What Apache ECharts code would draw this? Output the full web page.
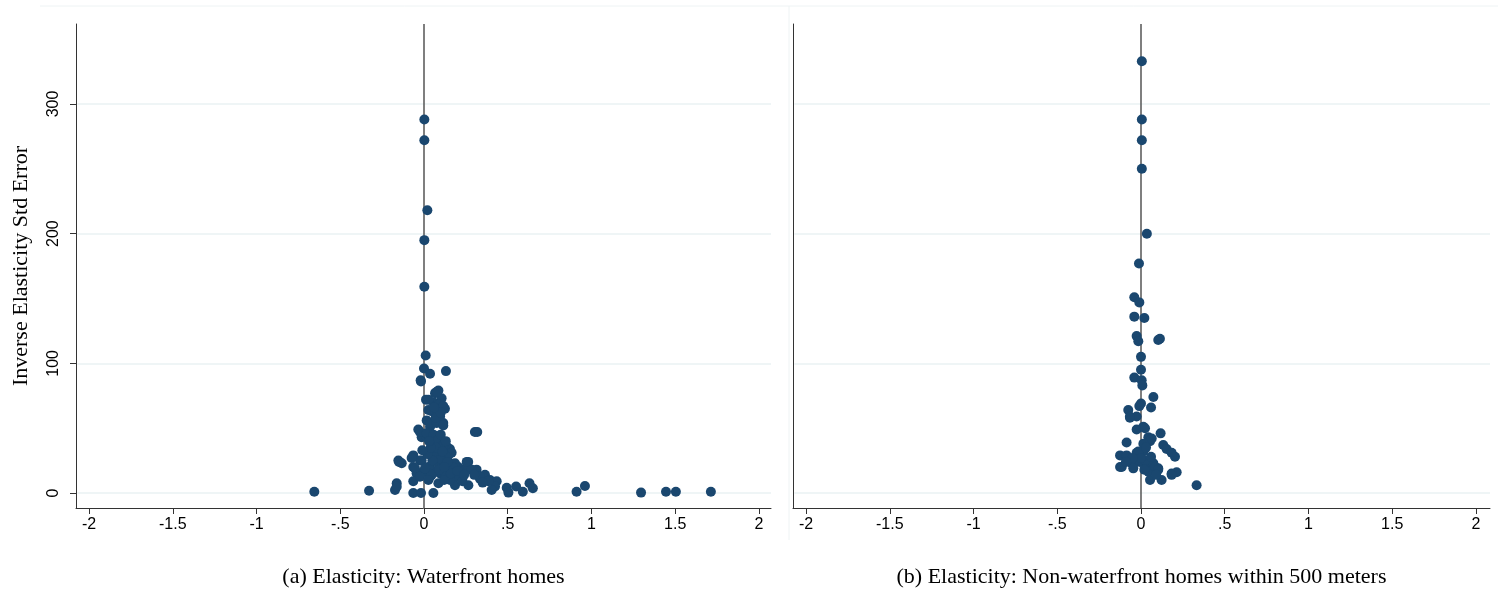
<!DOCTYPE html>
<html>
<head>
<meta charset="utf-8">
<script src="https://cdn.jsdelivr.net/npm/echarts@6/dist/echarts.min.js"></script>
<style>
html,body{margin:0;padding:0;background:#fff;}
#chart{width:1498px;height:594px;}
</style>
</head>
<body>
<div id="chart"></div>
<script>
// ---- data ----
var xTicks = [-2, -1.5, -1, -0.5, 0, 0.5, 1, 1.5, 2];
var yTicks = [0, 100, 200, 300];
var panelTitles = ['(a) Elasticity: Waterfront homes', '(b) Elasticity: Non-waterfront homes within 500 meters'];
var yAxisTitle = 'Inverse Elasticity Std Error';

// (a) Waterfront homes: [elasticity, inverse std error]
var waterfrontPoints = [
  [0.002,288],[0.002,272],[0.02,218],[0.002,195],[0.002,159],
  [0.01,106],[0.0,96],[0.036,92],[0.131,94],[-0.02,87],[0.086,79],[0.066,77],[0.105,73],
  [0.012,72],[0.056,70],[0.086,68],[0.125,65],[0.026,64],[0.086,64],[0.016,56],[0.056,54],
  [0.115,54],[0.036,51],[-0.034,49],[-0.014,43],[0.016,43],[0.304,47],[0.318,47],[0.066,41],
  [0.105,38],[0.135,36],[0.155,34],[0.086,32],[0.145,29],[-0.064,29],[0.105,28],[-0.153,25],
  [-0.133,23],[-0.024,25],[-0.064,20],[0.036,20],[0.086,23],[0.155,23],[0.205,20],[0.264,24],
  [0.255,20],[0.314,18],[0.364,14],[0.334,11],[0.394,10],[0.434,9],[0.424,5],[0.494,4],
  [0.504,0.3],[0.55,5],[0.59,1],[0.63,7.5],[0.65,3.6],[-0.044,15],[-0.004,16.5],[0.036,12.6],
  [0.096,15],[0.175,12.6],[0.215,16.5],[0.135,17.7],[0.056,16.5],[0.185,6],[-0.064,9],
  [-0.163,7.5],[-0.173,2.3],[-0.064,0],[-0.018,0],[0.056,0],[0.911,1],[0.961,5.4],
  [1.296,0.3],[1.445,1],[1.504,1],[-0.655,1],[-0.328,1.8],[-0.163,4.9],[-0.149,24],[1.713,1],
  [-0.018,86],[0.076,78],[0.026,72],[0.115,67],[0.046,63],[0.096,59],[0.036,54],[0.076,54],
  [0.115,52],[-0.024,47],[0.016,46],[0.056,45],[0.086,41],[0.115,37],[0.165,31],[0.135,28],
  [-0.074,27],[-0.014,25],[-0.054,19],[0.026,20],[0.185,23],[0.255,24],[-0.024,12.6],[0.046,14],
  [0.125,15],[0.205,12.6],[0.285,18],[0.334,12.6],[0.384,9],[0.155,10],[0.086,7.5],[0.265,6],
  [0.404,2.3],[0.006,19],[0.026,10],[0.06,30],[0.1,26],[0.17,20],[0.12,10],[0.23,9],
  [0.07,35],[0.11,32],[0.14,24],[0.05,25],[0.02,30],[0.09,18],[0.16,15],[0.2,17],[0.12,20],
  [0.04,35],[0.1,45],[0.13,40],[0.07,58],[0.1,62],[0.06,66],[0.03,40],[-0.01,33],[0.24,14],
  [0.3,14],[0.35,8]
];

// (b) Non-waterfront homes within 500 meters
var nonWaterfrontPoints = [
  [0.005,333],[0.005,288],[0.005,272],[0.005,250],[0.035,200],[-0.012,177],
  [-0.04,151],[-0.01,147],[-0.04,136],[0.02,135],[-0.026,121],[-0.016,117],[0.103,118],
  [0.113,119],[0.0,105],[0.0,95],[-0.04,89],[0.004,87],[0.008,83],[0.074,74],[0.0,69],
  [-0.01,67],[0.06,66],[-0.076,64],[-0.066,59],[-0.026,59],[0.014,51],[-0.026,49],[0.044,43],
  [0.117,46],[-0.086,39],[0.014,38],[0.054,40],[0.133,37],[0.153,34],[0.183,31],[0.203,28],
  [-0.125,29],[-0.086,29],[-0.026,31],[0.014,32],[-0.125,20],[-0.056,23],[-0.006,24],
  [-0.046,19],[0.034,20],[0.074,23],[0.103,19],[0.044,16.5],[0.054,10],[0.123,10],
  [0.183,15],[0.213,16],[0.332,6],[-0.066,58],[0.024,50],[0.064,42],[-0.016,32],
  [0.024,25],[-0.115,20],[0.084,20],[0.183,14],[0.103,18],[0.0,27],
  [0.03,35],[-0.05,27],[0.06,28],[0.02,18],[0.09,14],[-0.09,24]
];

// ---- chart ----
var chart = echarts.init(document.getElementById('chart'), null, {renderer: 'canvas'});
var sans = 'Liberation Sans, Arial, sans-serif';
var serif = 'Liberation Serif, Times New Roman, serif';
var axisColor = '#333';
var gridColor = '#eaf2f3';
var dotColor = '#1a476f';
var xMin = -2.078;

function fmtX(v) {
  var s = String(Math.round(v * 10) / 10);
  return s.replace('0.', '.');
}

function makeX(idx, name, max) {
  return {
    gridIndex: idx, type: 'value', min: xMin, max: max,
    name: name, nameLocation: 'middle', nameGap: 58,
    nameTextStyle: {fontFamily: serif, fontSize: 22, color: '#000'},
    axisLine: {show: true, onZero: false, lineStyle: {color: axisColor, width: 1}},
    axisTick: {show: true, length: 6, customValues: xTicks, lineStyle: {color: axisColor, width: 1}},
    axisLabel: {customValues: xTicks, formatter: fmtX, fontFamily: sans, fontSize: 16, color: '#000', margin: 9},
    splitLine: {show: false}
  };
}
function makeY(idx, showLabels) {
  return {
    gridIndex: idx, type: 'value', min: -11.57, max: 361.7,
    name: showLabels ? yAxisTitle : '', nameLocation: 'middle', nameGap: 44,
    nameTextStyle: {fontFamily: serif, fontSize: 22, color: '#000'},
    axisLine: {show: true, onZero: false, lineStyle: {color: axisColor, width: 1}},
    axisTick: {show: showLabels, length: 6, customValues: yTicks, lineStyle: {color: axisColor, width: 1}},
    axisLabel: {show: showLabels, customValues: yTicks, rotate: 90, fontFamily: sans, fontSize: 16, color: '#000', margin: 14},
    splitLine: {show: false}
  };
}
function markLines(max) {
  var d = yTicks.map(function (v) {
    return [{coord: [xMin + 0.008, v], lineStyle: {color: gridColor, width: 1.5, type: 'solid'}}, {coord: [max, v]}];
  });
  d.push({xAxis: 0, lineStyle: {color: '#555', width: 1.5, type: 'solid'}});
  return {silent: true, symbol: 'none', z: 1, label: {show: false}, animation: false, data: d};
}

chart.setOption({
  animation: false,
  backgroundColor: '#fff',
  grid: [
    {left: 76, top: 24, width: 695, height: 484},
    {left: 793, top: 24, width: 697, height: 484}
  ],
  xAxis: [makeX(0, panelTitles[0], 2.072), makeX(1, panelTitles[1], 2.084)],
  yAxis: [makeY(0, true), makeY(1, false)],
  graphic: [
    {type: 'line', shape: {x1: 40, y1: 6, x2: 1498, y2: 6}, style: {stroke: '#eef3f4', lineWidth: 1}, silent: true},
    {type: 'line', shape: {x1: 789, y1: 6, x2: 789, y2: 540}, style: {stroke: '#eef3f4', lineWidth: 1}, silent: true}
  ],
  series: [
    {type: 'scatter', xAxisIndex: 0, yAxisIndex: 0, data: waterfrontPoints, symbolSize: 10,
     itemStyle: {color: dotColor, opacity: 1}, z: 3, markLine: markLines(2.072)},
    {type: 'scatter', xAxisIndex: 1, yAxisIndex: 1, data: nonWaterfrontPoints, symbolSize: 10,
     itemStyle: {color: dotColor, opacity: 1}, z: 3, markLine: markLines(2.084)}
  ]
});
</script>
</body>
</html>
